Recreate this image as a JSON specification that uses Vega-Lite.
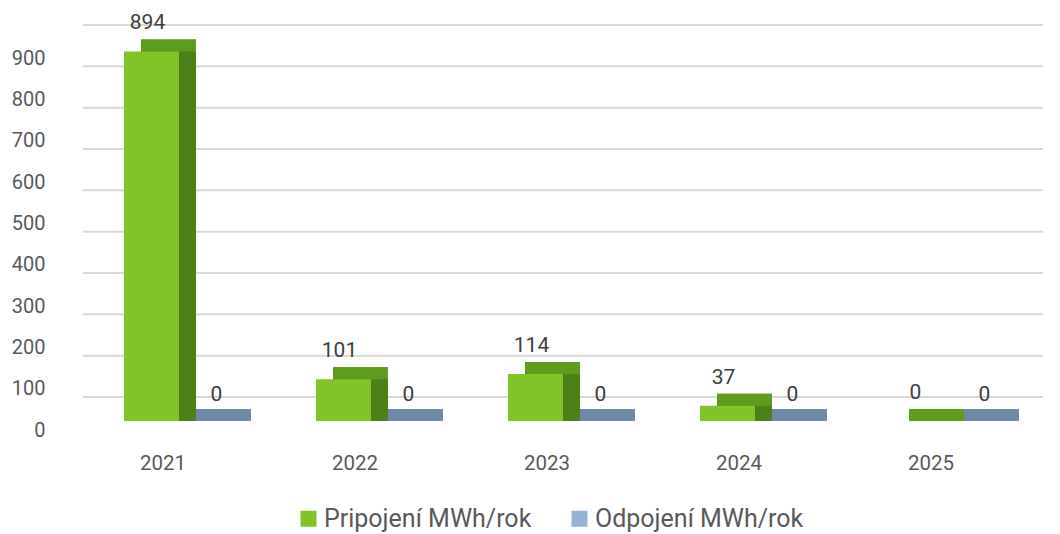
{
  "$schema": "https://vega.github.io/schema/vega-lite/v6.json",
  "width": 960,
  "height": 372,
  "autosize": "none",
  "padding": {"left": 83, "top": 49, "right": 17, "bottom": 113},
  "background": "white",
  "config": {
    "view": {"stroke": null},
    "font": "Roboto",
    "axis": {"labelFont": "Roboto", "labelColor": "#595959", "labelFontSize": 20, "domain": false, "ticks": false, "grid": false, "title": null}
  },
  "datasets": {
    "bars": [
      {"year": "2021", "series": "Pripojení MWh/rok", "v": 894},
      {"year": "2021", "series": "Odpojení MWh/rok", "v": 0},
      {"year": "2022", "series": "Pripojení MWh/rok", "v": 101},
      {"year": "2022", "series": "Odpojení MWh/rok", "v": 0},
      {"year": "2023", "series": "Pripojení MWh/rok", "v": 114},
      {"year": "2023", "series": "Odpojení MWh/rok", "v": 0},
      {"year": "2024", "series": "Pripojení MWh/rok", "v": 37},
      {"year": "2024", "series": "Odpojení MWh/rok", "v": 0},
      {"year": "2025", "series": "Pripojení MWh/rok", "v": 0},
      {"year": "2025", "series": "Odpojení MWh/rok", "v": 0}
    ],
    "grid": [
      {"g": 0}, {"g": 100}, {"g": 200}, {"g": 300}, {"g": 400},
      {"g": 500}, {"g": 600}, {"g": 700}, {"g": 800}, {"g": 900}
    ]
  },
  "resolve": {"scale": {"color": "independent", "xOffset": "independent"}, "legend": {"color": "independent"}},
  "layer": [
    {
      "data": {"name": "grid"},
      "mark": {"type": "rule", "color": "#d9d9d9", "strokeWidth": 2, "yOffset": -24, "x2Offset": 17},
      "encoding": {
        "y": {"field": "g", "type": "quantitative", "scale": {"domain": [0, 900], "nice": false},
          "axis": {"values": [0, 100, 200, 300, 400, 500, 600, 700, 800, 900], "labelPadding": 38, "labelOffset": 9}}
      }
    },
    {
      "data": {"name": "bars"},
      "mark": {"type": "bar", "yOffset": -12, "y2Offset": 0},
      "encoding": {
        "x": {"field": "year", "type": "nominal", "scale": {"paddingInner": 0.427, "paddingOuter": 0.2135},
          "axis": {"labelAngle": 0, "labelPadding": 32, "labelOffset": -16, "labelFontSize": 20.5}},
        "xOffset": {"field": "series", "sort": ["Pripojení MWh/rok", "Odpojení MWh/rok"], "scale": {"domain": ["Pripojení MWh/rok", "Odpojení MWh/rok"], "range": [17, 127]}},
        "y": {"field": "v", "type": "quantitative"},
        "y2": {"datum": 0},
        "color": {"field": "series", "sort": ["Pripojení MWh/rok", "Odpojení MWh/rok"], "scale": {"range": ["#4e8019", "#7088a7"]}, "legend": null}
      }
    },
    {
      "data": {"name": "bars"},
      "mark": {"type": "bar", "yOffset": -12, "y2Offset": 0},
      "encoding": {
        "x": {"field": "year", "type": "nominal"},
        "xOffset": {"field": "series", "sort": ["Pripojení MWh/rok", "Odpojení MWh/rok"], "scale": {"domain": ["Pripojení MWh/rok", "Odpojení MWh/rok"], "range": [17, 127]}},
        "y": {"field": "v", "type": "quantitative"},
        "y2": {"field": "v"},
        "color": {"field": "series", "sort": ["Pripojení MWh/rok", "Odpojení MWh/rok"], "scale": {"range": ["#5f9b1f", "#7088a7"]}, "legend": null}
      }
    },
    {
      "data": {"name": "bars"},
      "mark": {"type": "bar"},
      "encoding": {
        "x": {"field": "year", "type": "nominal"},
        "xOffset": {"field": "series", "sort": ["Pripojení MWh/rok", "Odpojení MWh/rok"], "scale": {"domain": ["Pripojení MWh/rok", "Odpojení MWh/rok"], "range": [0, 110]}},
        "y": {"field": "v", "type": "quantitative"},
        "color": {"field": "series", "sort": ["Pripojení MWh/rok", "Odpojení MWh/rok"], "scale": {"range": ["#80c42a", "#95b3d7"]},
          "legend": {"title": null, "orient": "none", "legendX": 213, "legendY": 457, "direction": "horizontal", "symbolType": "square", "symbolSize": 256, "symbolStrokeWidth": 0, "labelFontSize": 25, "labelColor": "#595959", "labelFont": "Roboto", "labelOffset": 3, "columnPadding": 35, "labelLimit": 500}}
      }
    },
    {
      "data": {"name": "bars"},
      "transform": [{"filter": "datum.series === 'Pripojení MWh/rok'"}],
      "mark": {"type": "text", "dy": -28, "dx": -4, "fontSize": 21, "color": "#404040", "baseline": "middle"},
      "encoding": {
        "x": {"field": "year", "type": "nominal"},
        "xOffset": {"field": "series", "scale": {"domain": ["Pripojení MWh/rok", "Odpojení MWh/rok"], "range": [0, 110]}},
        "y": {"field": "v", "type": "quantitative"},
        "text": {"field": "v", "type": "quantitative"}
      }
    },
    {
      "data": {"name": "bars"},
      "transform": [{"filter": "datum.series === 'Odpojení MWh/rok'"}],
      "mark": {"type": "text", "dy": -26, "dx": 10, "fontSize": 21, "color": "#404040", "baseline": "middle"},
      "encoding": {
        "x": {"field": "year", "type": "nominal"},
        "xOffset": {"field": "series", "scale": {"domain": ["Pripojení MWh/rok", "Odpojení MWh/rok"], "range": [0, 110]}},
        "y": {"field": "v", "type": "quantitative"},
        "text": {"field": "v", "type": "quantitative"}
      }
    }
  ]
}
